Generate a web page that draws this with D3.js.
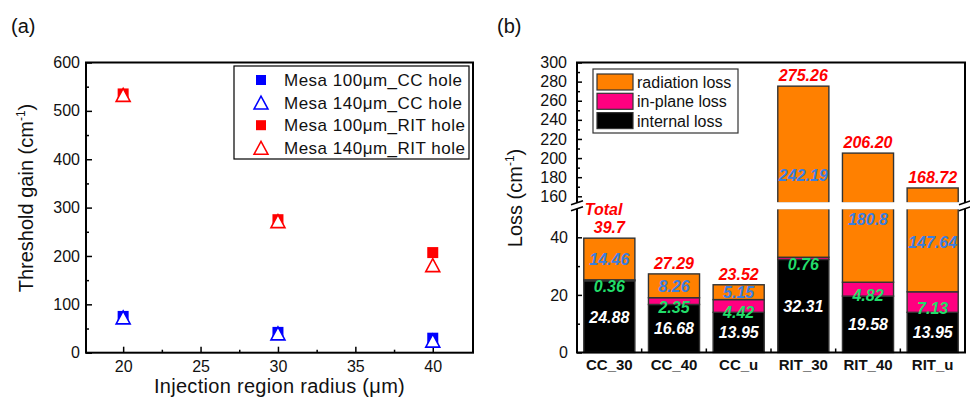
<!DOCTYPE html>
<html>
<head>
<meta charset="utf-8">
<script src="https://cdn.jsdelivr.net/npm/d3@7"></script>
<style>
body { margin: 0; background: #fff; }
svg text { font-family: Arial, "Liberation Sans", sans-serif; fill: #111; }
.tick text { font-size: 16px; }
.tick line { stroke: #000; stroke-width: 1.5; }
.domain { display: none; }
.val { font-size: 16px; font-weight: bold; font-style: italic; }
</style>
</head>
<body>
<svg id="fig" width="970" height="398"></svg>
<script>
// ---- (a) threshold gain vs injection region radius
var radius = [20, 30, 40];
var cc100 = [75, 42, 30];     // Mesa 100um, CC hole (square)
var cc140 = [73, 40, 25];     // Mesa 140um, CC hole (triangle)
var rit100 = [535, 275, 207]; // Mesa 100um, RIT hole (square)
var rit140 = [533, 272, 181]; // Mesa 140um, RIT hole (triangle)
var gainTicks = [0, 100, 200, 300, 400, 500, 600];
var radiusTicks = [20, 25, 30, 35, 40];

// ---- (b) loss breakdown
var devices = ["CC_30", "CC_40", "CC_u", "RIT_30", "RIT_40", "RIT_u"];
var internalLoss = [24.88, 16.68, 13.95, 32.31, 19.58, 13.95];
var inplaneLoss = [0.36, 2.35, 4.42, 0.76, 4.82, 7.13];
var radiationLoss = [14.46, 8.26, 5.15, 242.19, 180.8, 147.64];
var totalText = ["39.7", "27.29", "23.52", "275.26", "206.20", "168.72"];
var lowTicks = [0, 20, 40];
var highTicks = [160, 180, 200, 220, 240, 260, 280, 300];

var svg = d3.select("#fig");
var BLUE = "#0000ff", RED = "#ff0000";
var ORANGE = "#ff8000", PINK = "#ff0080";

function ylabel(g, x, y, word) {
  var t = g.append("text")
    .attr("transform", "translate(" + x + "," + y + ") rotate(-90)")
    .attr("text-anchor", "middle")
    .style("font-size", "20px");
  t.append("tspan").text(word + " (cm");
  t.append("tspan").attr("dy", -8).style("font-size", "12px").text("-1");
  t.append("tspan").attr("dy", 8).text(")");
}

// ================= panel (a)
var a = { l: 86, r: 473, t: 62.5, b: 352.7 };
var xa = d3.scaleLinear().domain([17.6, 42.6]).range([a.l, a.r]);
var ya = d3.scaleLinear().domain([0, 600]).range([a.b, a.t]);

svg.append("text").attr("x", 11).attr("y", 33).style("font-size", "20px").text("(a)");

var ga = svg.append("g");
ga.append("g").attr("transform", "translate(0," + a.b + ")")
  .call(d3.axisBottom(xa).tickValues(radiusTicks).tickSizeInner(-6).tickSizeOuter(0).tickPadding(8));
ga.append("g").attr("transform", "translate(0," + a.b + ")")
  .call(d3.axisBottom(xa).tickValues([22.5, 27.5, 32.5, 37.5]).tickFormat("").tickSizeInner(-3).tickSizeOuter(0));
ga.append("g").attr("transform", "translate(" + a.l + ",0)")
  .call(d3.axisLeft(ya).tickValues(gainTicks).tickSizeInner(-6).tickSizeOuter(0).tickPadding(6));
ga.append("g").attr("transform", "translate(" + a.l + ",0)")
  .call(d3.axisLeft(ya).tickValues([50, 150, 250, 350, 450, 550]).tickFormat("").tickSizeInner(-3).tickSizeOuter(0));
ga.append("rect").attr("x", a.l).attr("y", a.t).attr("width", a.r - a.l).attr("height", a.b - a.t)
  .attr("fill", "none").attr("stroke", "#000").attr("stroke-width", 2);

var tri = "M0,-6.5L7,6.5L-7,6.5Z";
function squares(vals, col) {
  ga.selectAll(null).data(vals).enter().append("rect")
    .attr("x", function(d, i) { return xa(radius[i]) - 5.5; })
    .attr("y", function(d) { return ya(d) - 5.5; })
    .attr("width", 11).attr("height", 11).attr("fill", col);
}
function triangles(vals, col) {
  ga.selectAll(null).data(vals).enter().append("path")
    .attr("d", tri)
    .attr("transform", function(d, i) { return "translate(" + xa(radius[i]) + "," + ya(d) + ")"; })
    .attr("fill", "#fff").attr("stroke", col).attr("stroke-width", 1.6);
}
squares(cc100, BLUE); triangles(cc140, BLUE);
squares(rit100, RED); triangles(rit140, RED);

// legend (a)
var legA = [
  { name: "Mesa 100\u03bcm_CC hole", col: BLUE, sq: true },
  { name: "Mesa 140\u03bcm_CC hole", col: BLUE, sq: false },
  { name: "Mesa 100\u03bcm_RIT hole", col: RED, sq: true },
  { name: "Mesa 140\u03bcm_RIT hole", col: RED, sq: false }
];
ga.append("rect").attr("x", 234).attr("y", 66).attr("width", 235).attr("height", 93)
  .attr("fill", "#fff").attr("stroke", "#000").attr("stroke-width", 1.2);
legA.forEach(function(d, i) {
  var cy = 80 + i * 22.6;
  if (d.sq) {
    ga.append("rect").attr("x", 256).attr("y", cy - 5).attr("width", 10).attr("height", 10).attr("fill", d.col);
  } else {
    ga.append("path").attr("d", tri).attr("transform", "translate(261," + cy + ")")
      .attr("fill", "#fff").attr("stroke", d.col).attr("stroke-width", 1.5);
  }
  ga.append("text").attr("x", 284).attr("y", cy + 6).style("font-size", "17px")
    .style("letter-spacing", "0.5px").text(d.name);
});

ga.append("text").attr("x", (a.l + a.r) / 2).attr("y", 393).attr("text-anchor", "middle")
  .style("font-size", "20px").style("letter-spacing", "0.3px").text("Injection region radius (\u03bcm)");
ylabel(ga, 33, 198, "Threshold gain");

// ================= panel (b)
var b = { l: 577, r: 965, t: 62.5, b: 352.5, gapTop: 203, gapBot: 208.5 };
var xb = d3.scaleBand().domain(devices).range([b.l, b.r]).paddingInner(0.21).paddingOuter(0.105);
var yLow = d3.scaleLinear().domain([0, 50]).range([b.b, b.gapBot]);
var yHigh = d3.scaleLinear().domain([153, 300]).range([b.gapTop, b.t]);

svg.append("text").attr("x", 497).attr("y", 33).style("font-size", "20px").text("(b)");

var gb = svg.append("g");

// stacked segments, split across the axis break
var segs = [];
devices.forEach(function(dev, i) {
  var s0 = internalLoss[i], s1 = s0 + inplaneLoss[i], s2 = s1 + radiationLoss[i];
  [[0, s0, "#000"], [s0, s1, PINK], [s1, s2, ORANGE]].forEach(function(p) {
    if (p[1] <= 50) segs.push({ dev: dev, y0: yLow(p[0]), y1: yLow(p[1]), c: p[2] });
    else {
      segs.push({ dev: dev, y0: yLow(p[0]), y1: yLow(50), c: p[2] });
      segs.push({ dev: dev, y0: yHigh(153), y1: yHigh(p[1]), c: p[2] });
    }
  });
});
gb.selectAll("rect.seg").data(segs).enter().append("rect").attr("class", "seg")
  .attr("x", function(d) { return xb(d.dev); })
  .attr("width", xb.bandwidth())
  .attr("y", function(d) { return d.y1; })
  .attr("height", function(d) { return d.y0 - d.y1; })
  .attr("fill", function(d) { return d.c; })
  .attr("stroke", "#333").attr("stroke-width", 1.4);

// break gap
gb.append("rect").attr("x", b.l + 1).attr("y", b.gapTop - 0.8).attr("width", b.r - b.l - 2)
  .attr("height", b.gapBot - b.gapTop + 1.6).attr("fill", "#fff");

// axes
gb.append("g").attr("transform", "translate(" + b.l + ",0)")
  .call(d3.axisLeft(yLow).tickValues(lowTicks).tickSizeInner(-5).tickSizeOuter(0).tickPadding(9));
gb.append("g").attr("transform", "translate(" + b.l + ",0)")
  .call(d3.axisLeft(yLow).tickValues([10, 30]).tickFormat("").tickSizeInner(-3).tickSizeOuter(0));
gb.append("g").attr("transform", "translate(" + b.l + ",0)")
  .call(d3.axisLeft(yHigh).tickValues(highTicks).tickSizeInner(-5).tickSizeOuter(0).tickPadding(10));
gb.append("g").attr("transform", "translate(" + b.l + ",0)")
  .call(d3.axisLeft(yHigh).tickValues([170, 190, 210, 230, 250, 270, 290]).tickFormat("").tickSizeInner(-3).tickSizeOuter(0));
var xAxB = gb.append("g").attr("transform", "translate(0," + b.b + ")")
  .call(d3.axisBottom(xb).tickSize(0).tickPadding(7));
xAxB.selectAll("text").style("font-size", "15px").style("font-weight", "bold");
gb.selectAll("line.sep").data(devices.slice(1)).enter().append("line").attr("class", "sep")
  .attr("x1", function(d) { return xb(d) - (xb.step() - xb.bandwidth()) / 2; })
  .attr("x2", function(d) { return xb(d) - (xb.step() - xb.bandwidth()) / 2; })
  .attr("y1", b.b).attr("y2", b.b - 4).attr("stroke", "#000").attr("stroke-width", 1.5);

gb.append("path")
  .attr("d", "M" + b.l + "," + b.t + "V" + b.b + "H" + b.r + "V" + b.t + "Z")
  .attr("fill", "none").attr("stroke", "#000").attr("stroke-width", 2);

// break marks on both vertical axes
var gy = (b.gapTop + b.gapBot) / 2;
[b.l, b.r].forEach(function(x) {
  gb.append("path").attr("d", "M" + (x - 6) + "," + (gy - 1) + "L" + (x + 6) + "," + (gy - 5) +
    "L" + (x + 6) + "," + (gy + 1) + "L" + (x - 6) + "," + (gy + 5) + "Z").attr("fill", "#fff");
  gb.append("line").attr("x1", x - 6).attr("y1", gy - 1).attr("x2", x + 6).attr("y2", gy - 5)
    .attr("stroke", "#000").attr("stroke-width", 1.5);
  gb.append("line").attr("x1", x - 6).attr("y1", gy + 5).attr("x2", x + 6).attr("y2", gy + 1)
    .attr("stroke", "#000").attr("stroke-width", 1.5);
});

// value labels
function yAny(v) { return v > 50 ? yHigh(v) : yLow(v); }
var radAt = { RIT_30: 182, RIT_40: 46.5, RIT_u: 38.5 };
devices.forEach(function(dev, i) {
  var cx = xb(dev) + xb.bandwidth() / 2;
  var s0 = internalLoss[i], s1 = s0 + inplaneLoss[i], s2 = s1 + radiationLoss[i];
  gb.append("text").attr("class", "val").attr("x", cx).attr("y", yLow(s0 / 2) + 6)
    .attr("text-anchor", "middle").style("fill", "#fff").text(internalLoss[i]);
  gb.append("text").attr("class", "val").attr("x", cx).attr("y", yLow(s0 + inplaneLoss[i] / 2 - 2) + 6)
    .attr("text-anchor", "middle").style("fill", "#22dd6a").text(inplaneLoss[i]);
  var rv = radAt[dev] !== undefined ? radAt[dev] : (s1 + s2) / 2;
  gb.append("text").attr("class", "val").attr("x", cx).attr("y", yAny(rv) + 6)
    .attr("text-anchor", "middle").style("fill", "#3a7ee0").text(radiationLoss[i]);
  gb.append("text").attr("class", "val").attr("x", cx).attr("y", yAny(s2) - 5)
    .attr("text-anchor", "middle").style("fill", RED).text(totalText[i]);
});
gb.append("text").attr("class", "val").attr("x", xb("CC_30") + 1).attr("y", 215)
  .style("fill", RED).text("Total");

// legend (b)
var legB = [["radiation loss", ORANGE], ["in-plane loss", PINK], ["internal loss", "#000"]];
gb.append("rect").attr("x", 593).attr("y", 69).attr("width", 145).attr("height", 64)
  .attr("fill", "#fff").attr("stroke", "#333").attr("stroke-width", 1.2);
legB.forEach(function(d, i) {
  var cy = 82 + i * 19.3;
  gb.append("rect").attr("x", 597).attr("y", cy - 8).attr("width", 36).attr("height", 16)
    .attr("fill", d[1]).attr("stroke", "#333").attr("stroke-width", 1.2);
  gb.append("text").attr("x", 637).attr("y", cy + 6).style("font-size", "16px").text(d[0]);
});

ylabel(gb, 522, 198, "Loss");
</script>
</body>
</html>
